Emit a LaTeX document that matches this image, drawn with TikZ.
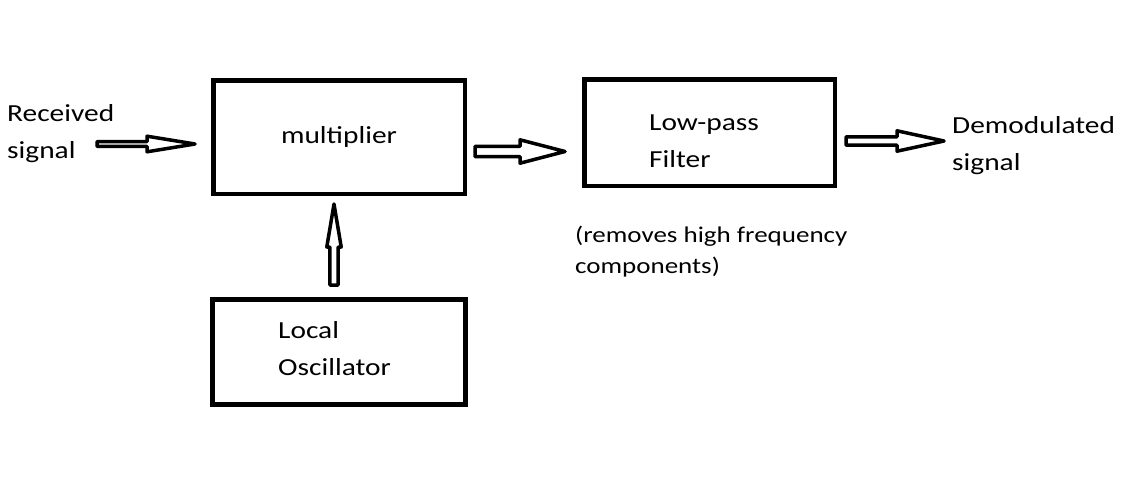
\documentclass[tikz,border=0pt]{standalone}
\usepackage{fontspec}
\setmainfont{Carlito}[FakeStretch=1.2]
\usetikzlibrary{calc}
\tikzset{
  box/.style={draw, line width=4.5pt, inner sep=0pt},
  lbl/.style={anchor=base west, inner sep=0pt, align=left, font=\fontsize{24.5}{37}\selectfont},
  smalllbl/.style={anchor=base west, inner sep=0pt, align=left, font=\fontsize{22.5}{31}\selectfont},
  blockarrow/.style={draw, line width=3.5pt, line join=round, fill=white}
}
% #1 from, #2 to, #3 shaft half-height, #4 head half-height, #5 head length
\newcommand\hollowarrow[5]{%
  \coordinate (hb) at ($(#2)!#5pt!(#1)$);
  \draw[blockarrow] ($(#1)!#3pt!90:(#2)$) -- ($(hb)!#3pt!90:(#2)$)
    -- ($(hb)!#4pt!90:(#2)$) -- (#2) -- ($(hb)!#4pt!-90:(#2)$)
    -- ($(hb)!#3pt!-90:(#2)$) -- ($(#1)!#3pt!-90:(#2)$) -- cycle;
}
\begin{document}
\begin{tikzpicture}[x=1pt,y=-1pt]
\useasboundingbox[fill=white] (0,0) rectangle (1121,495);
% boxes
\node[box, minimum width=251.5pt, minimum height=113.5pt, font=\fontsize{24.5}{37}\selectfont] (mult) at (339,137) {multiplier};
\node[box, minimum width=250.5pt, minimum height=106.5pt] (lpf) at (709.5,132.5) {};
\node[box, minimum width=253pt, minimum height=105pt] (osc) at (339,352) {};
% texts (anchor is the baseline of the last line)
\node[lbl] (recv) at (7,158) {Received\\signal};
\node[lbl] (lpft) at (649,167) {Low-pass\\Filter};
\node[lbl] (osct) at (278,375) {Local\\Oscillator};
\node[lbl] (demod) at (952,170) {Demodulated\\signal};
\node[smalllbl] (note) at (575,273) {(removes high frequency\\components)};
% arrow end points
\coordinate (a1s) at (97,144);   \coordinate (a1e) at (195,144);
\coordinate (a2s) at (475,151.5); \coordinate (a2e) at (565,151.5);
\coordinate (a3s) at (846,141);  \coordinate (a3e) at (944,141);
\coordinate (a4s) at (334,285);  \coordinate (a4e) at (334,204);
\hollowarrow{a1s}{a1e}{2.4}{7.8}{48}
\hollowarrow{a2s}{a2e}{5.2}{11.7}{45}
\hollowarrow{a3s}{a3e}{4.2}{10.2}{47}
\hollowarrow{a4s}{a4e}{4.2}{7.2}{43}
\end{tikzpicture}
\end{document}
